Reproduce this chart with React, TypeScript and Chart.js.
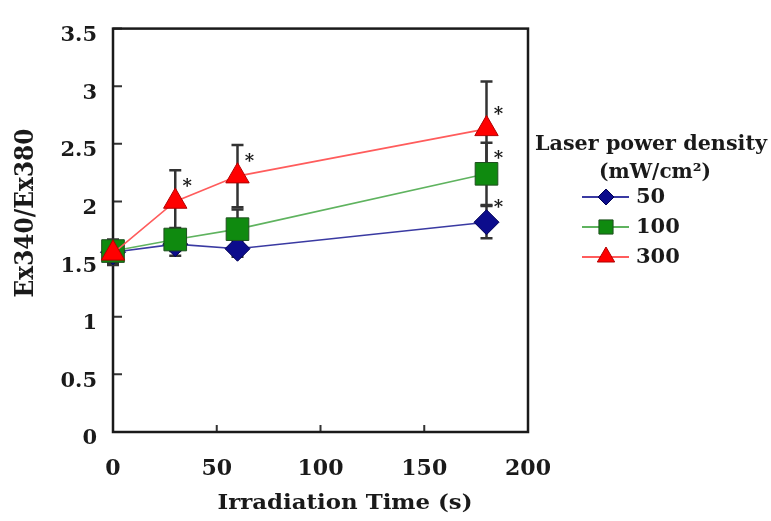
import React, { useEffect, useRef } from "react";
import { Chart, registerables } from "chart.js";
Chart.register(...registerables);

// ---- data ----
const times = [0, 30, 60, 180];
const seriesLabels = ["50", "100", "300"];
const values50 = [1.56, 1.63, 1.59, 1.82];
const errors50 = [0.1, 0.1, 0.07, 0.14];
const values100 = [1.57, 1.67, 1.76, 2.24];
const errors100 = [0.1, 0.1, 0.17, 0.27];
const values300 = [1.55, 2.0, 2.22, 2.63];
const errors300 = [0.1, 0.27, 0.27, 0.41];
// [series index, point index] of significance asterisks
const significant = [[2, 1], [2, 2], [2, 3], [1, 3], [0, 3]];
const yTickLabels = ["0", "0.5", "1", "1.5", "2", "2.5", "3", "3.5"];
const xTitle = "Irradiation Time (s)";
const yTitle = "Ex340/Ex380";
const legendTitle = "Laser power density";
const legendUnit = "(mW/cm²)";

const allValues = [values50, values100, values300];
const allErrors = [errors50, errors100, errors300];

const FONT = "'DejaVu Serif', serif";
const styles = [
  { line: "#3a3aa2", fill: "#0c0c8c", border: "#000055", shape: "rectRot", r: 12.5, lr: 8 },
  { line: "#5fb35f", fill: "#0f8a0f", border: "#1f4f1f", shape: "rect", r: 16, lr: 10 },
  { line: "#ff5c5c", fill: "#ff0000", border: "#b00000", shape: "triangle", r: 13.5, lr: 10 },
];

function fitText(ctx: CanvasRenderingContext2D, text: string, cx: number, cy: number, w: number) {
  const m = ctx.measureText(text).width;
  const s = w / m;
  ctx.save();
  ctx.translate(cx, cy);
  ctx.scale(s, 1);
  ctx.textAlign = "center";
  ctx.fillText(text, 0, 0);
  ctx.restore();
}

function drawMarker(ctx: CanvasRenderingContext2D, shape: string, x: number, y: number, r: number) {
  ctx.beginPath();
  if (shape === "rectRot") {
    ctx.moveTo(x - r, y);
    ctx.lineTo(x, y - r);
    ctx.lineTo(x + r, y);
    ctx.lineTo(x, y + r);
  } else if (shape === "rect") {
    const s = r * Math.SQRT1_2;
    ctx.rect(x - s, y - s, 2 * s, 2 * s);
  } else {
    const h = (r * Math.sqrt(3)) / 2;
    ctx.moveTo(x, y - r);
    ctx.lineTo(x + h, y + r / 2);
    ctx.lineTo(x - h, y + r / 2);
  }
  ctx.closePath();
  ctx.fill();
  ctx.stroke();
}

const framePlugin = {
  id: "frame",
  beforeDatasetsDraw(chart: any) {
    const { ctx, chartArea: a, scales } = chart;
    const x = scales.x, y = scales.y;
    ctx.save();
    ctx.strokeStyle = "#333";
    ctx.lineWidth = 2;
    ctx.beginPath();
    y.ticks.forEach((t: any) => {
      const py = y.getPixelForValue(t.value);
      ctx.moveTo(a.left, py);
      ctx.lineTo(a.left + 9, py);
    });
    x.ticks.forEach((t: any) => {
      const px = x.getPixelForValue(t.value);
      ctx.moveTo(px, a.bottom);
      ctx.lineTo(px, a.bottom - 7);
    });
    ctx.stroke();
    ctx.strokeStyle = "#1a1a1a";
    ctx.lineWidth = 2.5;
    ctx.strokeRect(a.left, a.top, a.right - a.left, a.bottom - a.top);
    ctx.strokeStyle = "#333";
    ctx.lineWidth = 2.5;
    allValues.forEach((vals, si) => {
      vals.forEach((v, i) => {
        const e = allErrors[si][i];
        const px = x.getPixelForValue(times[i]);
        const top = y.getPixelForValue(v + e);
        const bot = y.getPixelForValue(v - e);
        ctx.beginPath();
        ctx.moveTo(px, top);
        ctx.lineTo(px, bot);
        ctx.moveTo(px - 6, top);
        ctx.lineTo(px + 6, top);
        ctx.moveTo(px - 6, bot);
        ctx.lineTo(px + 6, bot);
        ctx.stroke();
      });
    });
    ctx.restore();
  },
  afterDraw(chart: any) {
    const { ctx, scales } = chart;
    const x = scales.x, y = scales.y;
    ctx.save();
    ctx.fillStyle = "#1a1a1a";
    ctx.font = `bold 18px ${FONT}`;
    ctx.textAlign = "center";
    ctx.textBaseline = "middle";
    significant.forEach(([si, pi]) => {
      const px = x.getPixelForValue(times[pi]);
      const py = y.getPixelForValue(allValues[si][pi]);
      ctx.fillText("*", px + 12, py - 14);
    });
    ctx.textBaseline = "alphabetic";
    ctx.font = `bold 21px ${FONT}`;
    fitText(ctx, xTitle, 345, 509, 255);
    ctx.save();
    ctx.translate(33, 213);
    ctx.rotate(-Math.PI / 2);
    ctx.font = `bold 26px ${FONT}`;
    fitText(ctx, yTitle, 0, 0, 169);
    ctx.restore();
    ctx.font = `bold 21px ${FONT}`;
    fitText(ctx, legendTitle, 651, 150, 232);
    ctx.font = `bold 20px ${FONT}`;
    fitText(ctx, legendUnit, 655, 178, 112);
    ctx.font = `bold 21px ${FONT}`;
    ctx.textAlign = "left";
    ctx.textBaseline = "middle";
    const rows = [197, 227, 257];
    seriesLabels.forEach((lab, i) => {
      const st = styles[i];
      const ry = rows[i];
      ctx.strokeStyle = st.line;
      ctx.lineWidth = 2;
      ctx.beginPath();
      ctx.moveTo(582, ry);
      ctx.lineTo(629, ry);
      ctx.stroke();
      ctx.fillStyle = st.fill;
      ctx.strokeStyle = st.border;
      ctx.lineWidth = 1;
      drawMarker(ctx, st.shape, 606, ry, st.lr);
      ctx.fillStyle = "#1a1a1a";
      ctx.fillText(lab, 636, ry + 1);
    });
    ctx.restore();
  },
};

export default function App() {
  const ref = useRef<HTMLCanvasElement>(null);
  useEffect(() => {
    if (!ref.current) return;
    const datasets = allValues.map((vals, si) => ({
      label: seriesLabels[si],
      data: vals.map((v, i) => ({ x: times[i], y: v })),
      borderColor: styles[si].line,
      borderWidth: 1.6,
      pointStyle: styles[si].shape,
      pointRadius: styles[si].r,
      pointBackgroundColor: styles[si].fill,
      pointBorderColor: styles[si].border,
      pointBorderWidth: 1,
      tension: 0,
      clip: false,
      order: 2 - si,
    }));
    const chart = new Chart(ref.current, {
      type: "line",
      data: { datasets },
      options: {
        animation: false,
        responsive: false,
        events: [],
        layout: { padding: { top: 14, right: 243, left: 0, bottom: 0 } },
        plugins: { legend: { display: false }, tooltip: { enabled: false } },
        scales: {
          x: {
            type: "linear",
            min: 0,
            max: 200,
            ticks: { stepSize: 50, color: "#1a1a1a", padding: 24, font: { family: FONT, size: 22, weight: "bold" } },
            grid: { display: false, drawTicks: false },
            border: { display: false },
            afterFit: (s: any) => { s.height = 89; },
          },
          y: {
            type: "linear",
            min: 0,
            max: 3.5,
            ticks: {
              stepSize: 0.5,
              color: "#1a1a1a",
              padding: 16,
              labelOffset: 7,
              font: { family: FONT, size: 21, weight: "bold" },
              callback: (_v: any, i: number) => yTickLabels[i],
            },
            grid: { display: false, drawTicks: false },
            border: { display: false },
            afterFit: (s: any) => { s.width = 113; },
          },
        },
      },
      plugins: [framePlugin],
    } as any);
    return () => chart.destroy();
  }, []);
  return (
    <div style={{ position: "absolute", left: 0, top: 0, width: 771, height: 521, background: "#fff" }}>
      <canvas ref={ref} width={771} height={521} style={{ display: "block" }} />
    </div>
  );
}
